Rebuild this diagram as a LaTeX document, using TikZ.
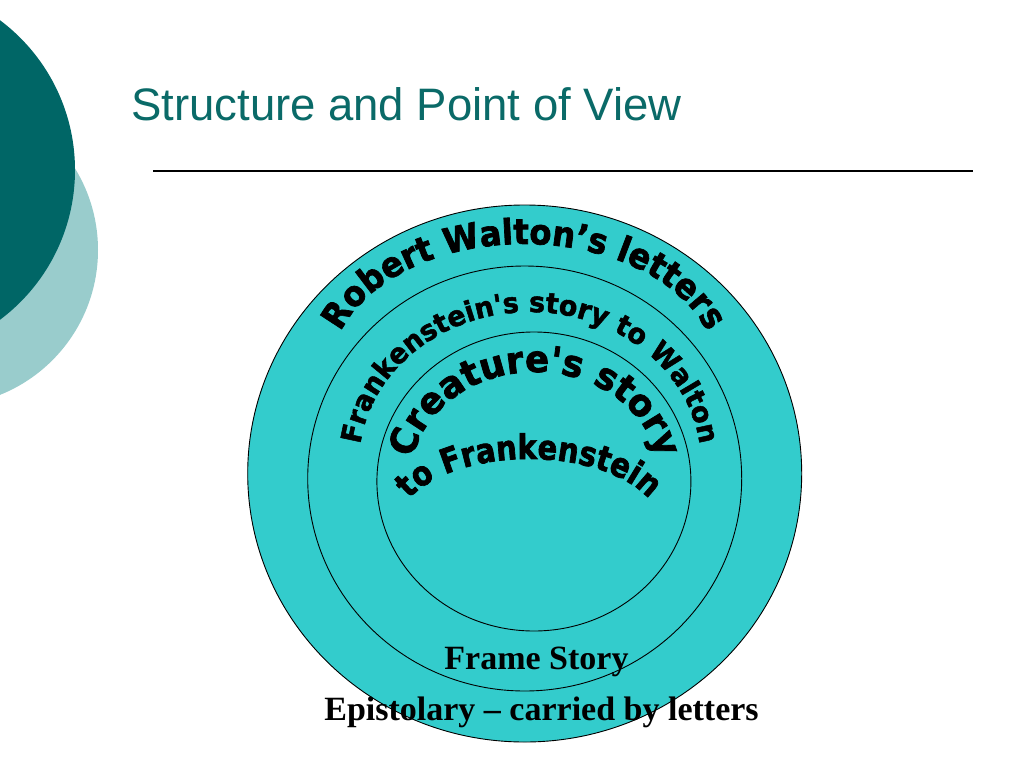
\documentclass[tikz,border=0pt]{standalone}
\usepackage{fontspec}
\setmainfont{Liberation Serif}
\newfontfamily\titlefont{Liberation Sans}
\newfontfamily\heavyA{DejaVu Sans Bold}[FakeBold=2.0, FakeStretch=0.92]
\newfontfamily\heavyB{DejaVu Sans Bold}[FakeBold=1.8, FakeStretch=0.96]
\newfontfamily\heavyC{DejaVu Sans Bold}[FakeBold=2.0, FakeStretch=0.96]
\newfontfamily\heavyD{DejaVu Sans Bold}[FakeBold=2.0, FakeStretch=0.855]
\usetikzlibrary{decorations.text}
\definecolor{darkteal}{RGB}{0,102,102}
\definecolor{lightteal}{RGB}{153,204,204}
\definecolor{ringfill}{RGB}{51,204,204}
\definecolor{titleteal}{RGB}{10,106,104}
\begin{document}
\begin{tikzpicture}[x=1pt,y=1pt,
  ring/.style={draw=black, line width=0.9pt, fill=ringfill},
  curved/.style={decorate, decoration={text along path, text align=center}},
  bottomtext/.style={anchor=base, inner sep=0pt, font=\bfseries\fontsize{34}{34}\selectfont}]
\useasboundingbox (0,0) rectangle (1024,-768);
\clip (0,0) rectangle (1024,-768);
\fill[white] (0,0) rectangle (1024,-768);
% background discs
\fill[lightteal] (-58,-250) circle[radius=156];
\fill[darkteal] (-112,-170) circle[radius=187];
% title
\node[anchor=base west, inner sep=0pt, text=titleteal, font=\titlefont\fontsize{45.5}{45.5}\selectfont] (title) at (131,-120) {Structure and Point of View};
\coordinate (ruleL) at (153,-171);
\coordinate (ruleR) at (973,-171);
\draw[line width=1.2pt] (ruleL) -- (ruleR);
% rings
\path[ring] (524.7,-473.5) ellipse[x radius=277, y radius=268.5];
\path[ring] (524.7,-478.5) ellipse[x radius=217, y radius=212.5];
\path[ring] (533.9,-481.5) ellipse[x radius=157, y radius=149.5];
% curved texts
\path[curved, decoration={text={|\heavyA\fontsize{35}{35}\selectfont|Robert Walton’s letters}}]
  (524,-372) ++(178:193 and 128) arc[start angle=178, end angle=2, x radius=193, y radius=128];
\path[curved, decoration={text={|\heavyB\fontsize{28}{28}\selectfont|Frankenstein's story to Walton}}]
  (530,-463.5) ++(179:171 and 151.5) arc[start angle=179, end angle=1, x radius=171, y radius=151.5];
\path[curved, decoration={text={|\heavyC\fontsize{37}{37}\selectfont|Creature's story}}]
  (535,-478.4) ++(178:124.5 and 106.4) arc[start angle=178, end angle=2, x radius=124.5, y radius=106.4];
\path[curved, decoration={text={|\heavyD\fontsize{34}{34}\selectfont|to Frankenstein}}]
  (529,-526.8) ++(178:131.4 and 67.8) arc[start angle=178, end angle=2, x radius=131.4, y radius=67.8];
% bottom captions
\node[bottomtext] (frame) at (536.5,-669) {Frame Story};
\node[bottomtext] (epist) at (541.5,-720) {Epistolary – carried by letters};
\end{tikzpicture}
\end{document}
